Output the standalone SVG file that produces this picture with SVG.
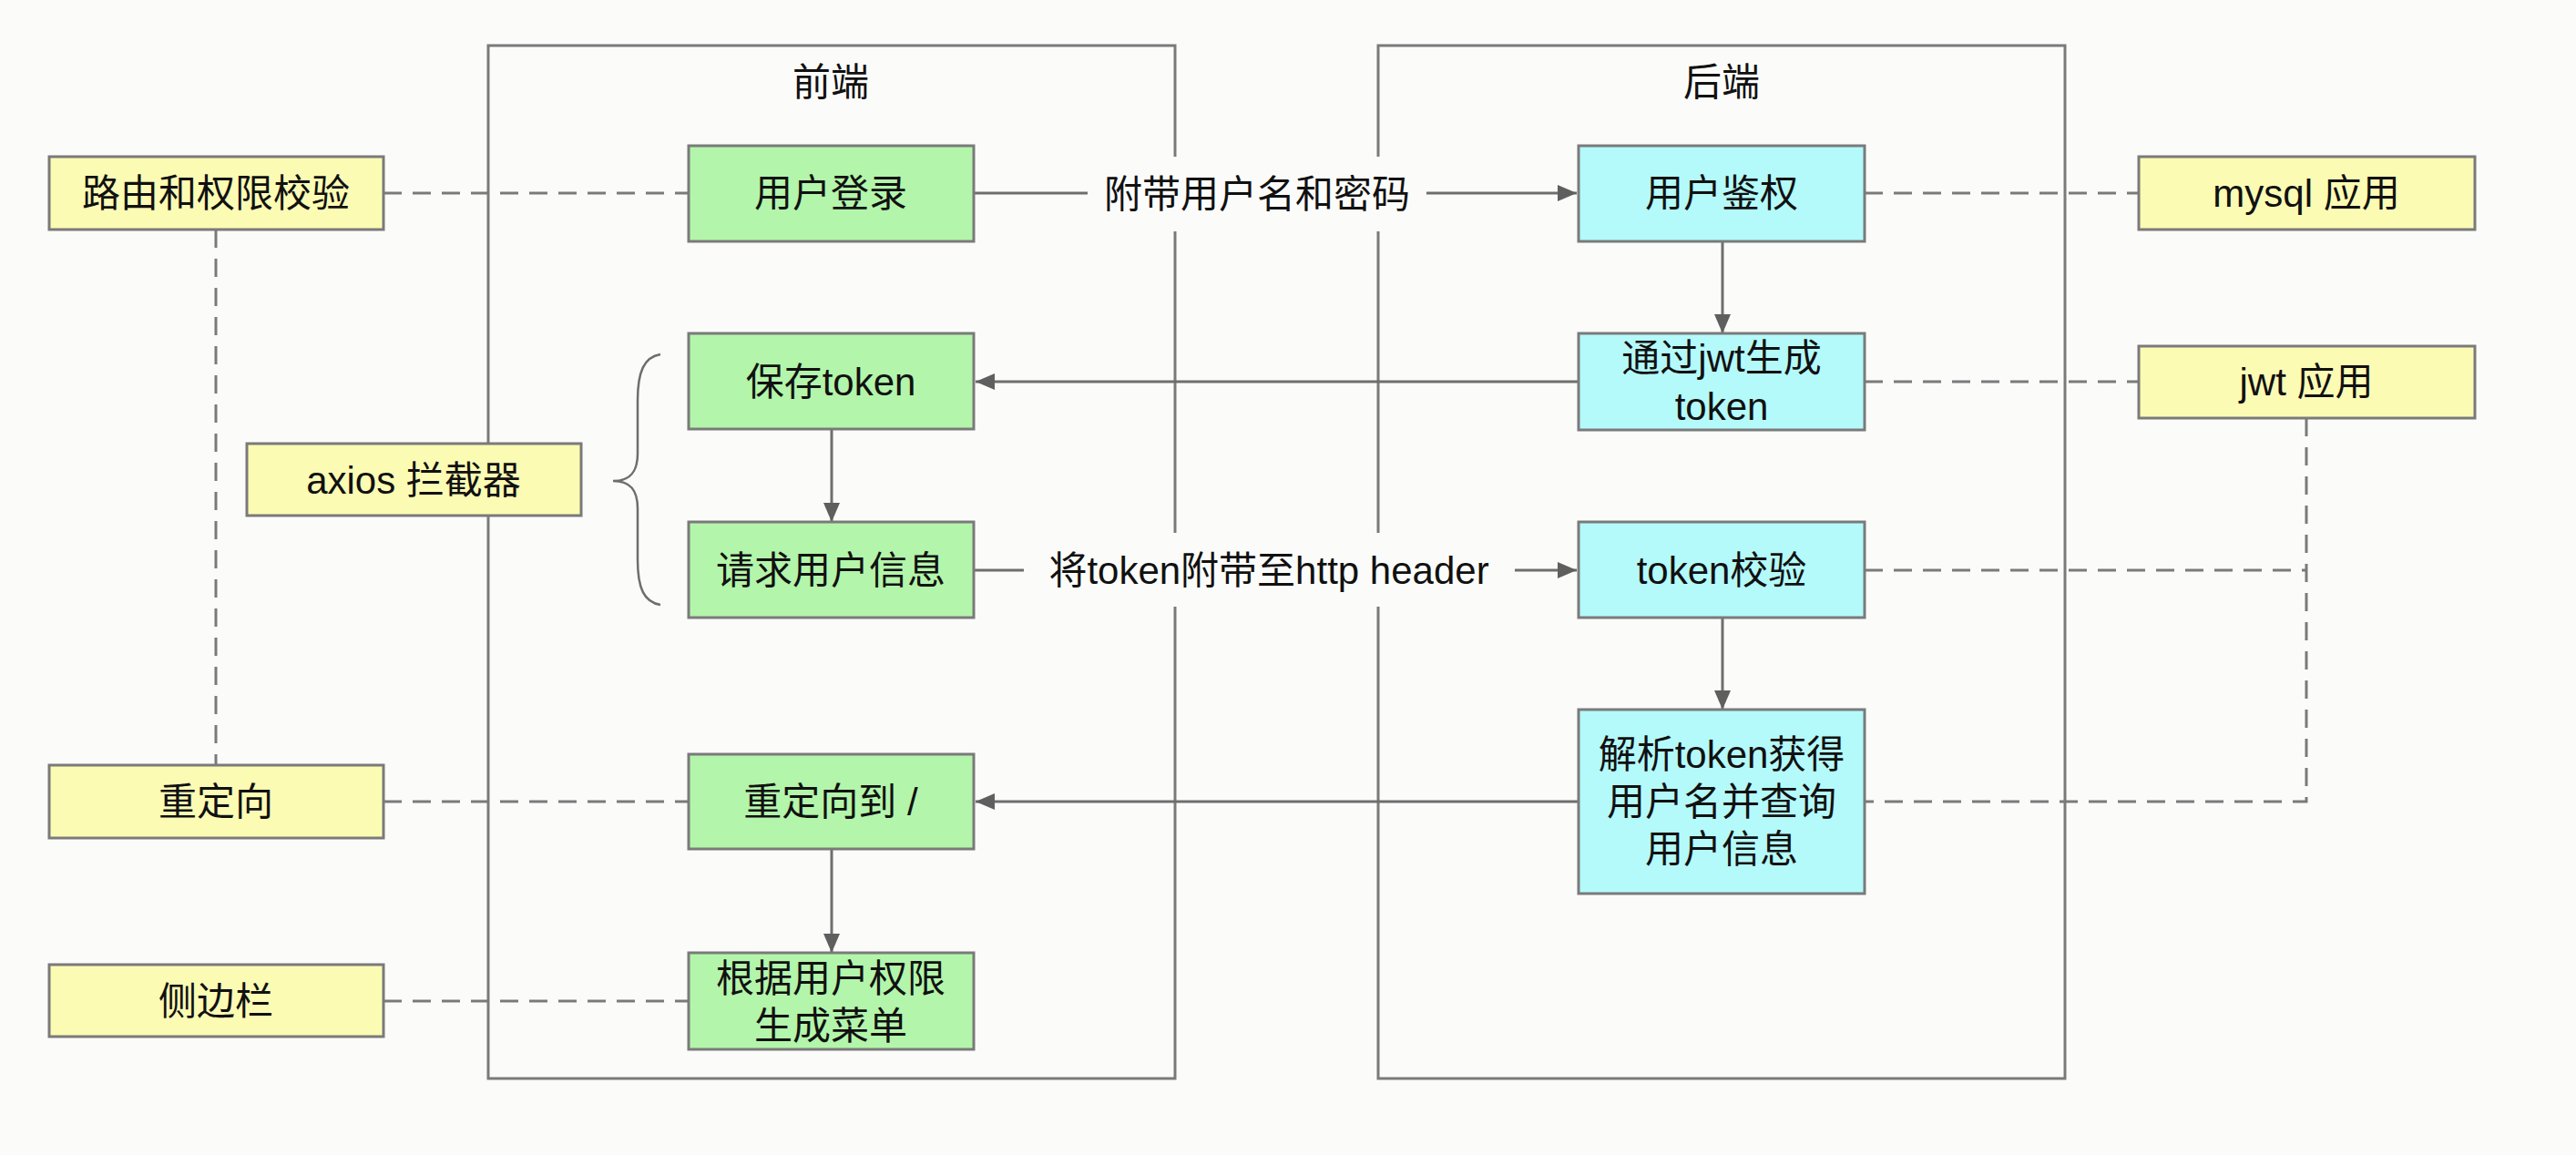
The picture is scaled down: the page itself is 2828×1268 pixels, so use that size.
<svg xmlns="http://www.w3.org/2000/svg" width="2828" height="1268" viewBox="0 0 2828 1268">
<defs>
<style>
.bg{fill:#fbfcfa}
.cont{fill:none;stroke:#7a7a7a;stroke-width:3}
.g{fill:#b3f5aa;stroke:#7a7a7a;stroke-width:3}
.c{fill:#b4fafa;stroke:#7a7a7a;stroke-width:3}
.y{fill:#fbfbb4;stroke:#7a7a7a;stroke-width:3}
.t{font-family:"Liberation Sans","Noto Sans CJK SC",sans-serif;font-size:42px;fill:#111;text-anchor:middle;dominant-baseline:central}
.ln{fill:none;stroke:#6e6e6e;stroke-width:3}
.ar{marker-end:url(#ah)}
.ds{fill:none;stroke:#7a7a7a;stroke-width:3;stroke-dasharray:20 12}
.br{fill:none;stroke:#6e6e6e;stroke-width:2.5}
</style>
<marker id="ah" markerUnits="userSpaceOnUse" markerWidth="22" markerHeight="18" refX="21" refY="9" orient="auto">
<path d="M0,0 L21,9 L0,18 z" fill="#5f5f5f"/>
</marker>
</defs>
<rect class="bg" x="0" y="0" width="2828" height="1268"/>

<g id="frontend-container">
<rect class="cont" x="536" y="50" width="754" height="1134"/>
<text class="t" x="912" y="90">前端</text>
</g>
<g id="backend-container">
<rect class="cont" x="1513" y="50" width="754" height="1134"/>
<text class="t" x="1890" y="90">后端</text>
</g>

<g id="connectors">
<path class="ln ar" d="M1069,212 H1731"/>
<path class="ln ar" d="M1891,265 V366"/>
<path class="ln ar" d="M1733,419 H1071"/>
<path class="ln ar" d="M913,471 V573"/>
<path class="ln ar" d="M1069,626 H1731"/>
<path class="ln ar" d="M1891,678 V779"/>
<path class="ln ar" d="M1733,880 H1071"/>
<path class="ln ar" d="M913,932 V1046"/>
<path class="ds" d="M421,212 H756"/>
<path class="ds" d="M237,252 V840"/>
<path class="ds" d="M421,880 H756"/>
<path class="ds" d="M421,1099 H756"/>
<path class="ds" d="M2047,212 H2348"/>
<path class="ds" d="M2047,419 H2348"/>
<path class="ds" d="M2532,459 V880 H2047"/>
<path class="ds" d="M2047,626 H2532"/>
<path class="br" d="M725,389 C707,392 700,408 700,440 L700,498 C700,518 692,528 673,528 C692,528 700,538 700,558 L700,614 C700,646 707,661 725,664"/>
<g id="label-login">
<rect class="bg" x="1194" y="172" width="372" height="82"/>
<text class="t" x="1380" y="213">附带用户名和密码</text>
</g>
<g id="label-header">
<rect class="bg" x="1124" y="585" width="539" height="81"/>
<text class="t" x="1393" y="626">将token附带至http header</text>
</g>
</g>

<g id="n-login"><rect class="g" x="756" y="160" width="313" height="105"/><text class="t" x="912" y="212">用户登录</text></g>
<g id="n-save"><rect class="g" x="756" y="366" width="313" height="105"/><text class="t" x="912" y="419">保存token</text></g>
<g id="n-request"><rect class="g" x="756" y="573" width="313" height="105"/><text class="t" x="912" y="626">请求用户信息</text></g>
<g id="n-redirect-to"><rect class="g" x="756" y="828" width="313" height="104"/><text class="t" x="912" y="880">重定向到 /</text></g>
<g id="n-menu"><rect class="g" x="756" y="1046" width="313" height="106"/><text class="t" x="912" y="1074">根据用户权限</text><text class="t" x="912" y="1126">生成菜单</text></g>

<g id="n-auth"><rect class="c" x="1733" y="160" width="314" height="105"/><text class="t" x="1890" y="212">用户鉴权</text></g>
<g id="n-jwt-gen"><rect class="c" x="1733" y="366" width="314" height="106"/><text class="t" x="1890" y="393">通过jwt生成</text><text class="t" x="1890" y="446">token</text></g>
<g id="n-verify"><rect class="c" x="1733" y="573" width="314" height="105"/><text class="t" x="1890" y="626">token校验</text></g>
<g id="n-parse"><rect class="c" x="1733" y="779" width="314" height="202"/><text class="t" x="1890" y="828">解析token获得</text><text class="t" x="1890" y="880">用户名并查询</text><text class="t" x="1890" y="932">用户信息</text></g>

<g id="n-route"><rect class="y" x="54" y="172" width="367" height="80"/><text class="t" x="237" y="212">路由和权限校验</text></g>
<g id="n-axios"><rect class="y" x="271" y="487" width="367" height="79"/><text class="t" x="454" y="527">axios 拦截器</text></g>
<g id="n-redirect"><rect class="y" x="54" y="840" width="367" height="80"/><text class="t" x="237" y="880">重定向</text></g>
<g id="n-sidebar"><rect class="y" x="54" y="1059" width="367" height="79"/><text class="t" x="237" y="1099">侧边栏</text></g>
<g id="n-mysql"><rect class="y" x="2348" y="172" width="369" height="80"/><text class="t" x="2532" y="212">mysql 应用</text></g>
<g id="n-jwt"><rect class="y" x="2348" y="380" width="369" height="79"/><text class="t" x="2532" y="419">jwt 应用</text></g>
</svg>
